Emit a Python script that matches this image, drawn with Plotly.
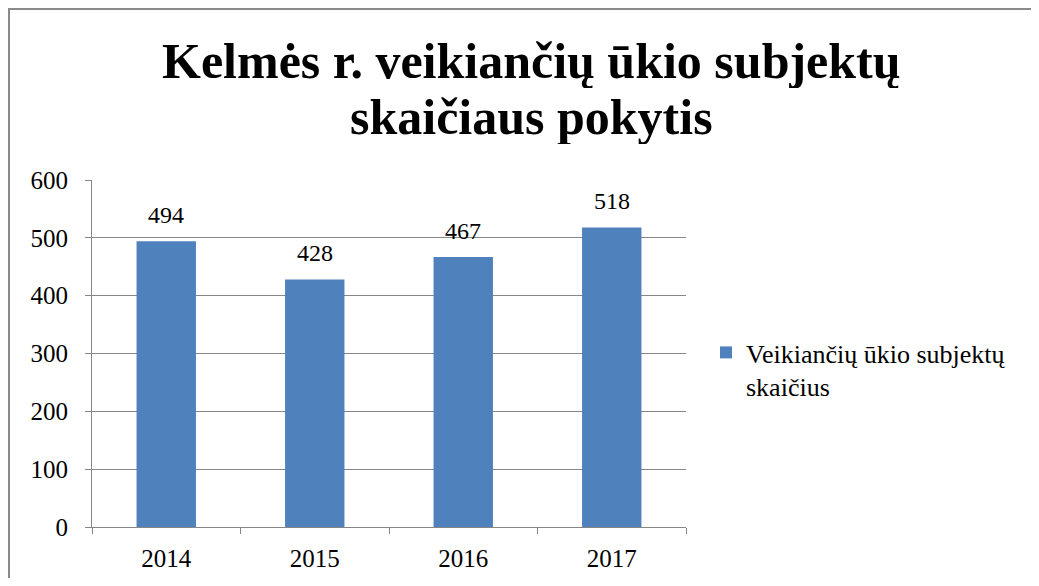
import plotly.graph_objects as go

years = ["2014", "2015", "2016", "2017"]
values = [494, 428, 467, 518]
series_name = "Veikiančių ūkio subjektų<br>skaičius"
title_lines = ["Kelmės r. veikiančių ūkio subjektų", "skaičiaus pokytis"]

FONT = "Liberation Serif, Times New Roman, serif"
OFF = 8  # page body margin
W, H = 1039 - 2 * OFF, 586 - 2 * OFF
# plot area in screen pixels
SX0, SX1, SY0, SY1 = 92, 686, 180, 527
L, R = SX0 - OFF, W - (SX1 - OFF)
T, B = SY0 - OFF, H - (SY1 - OFF)
pw, ph = W - L - R, H - T - B


def fx(s):
    return (s - SX0) / pw


def fy(s):
    return (SY1 - s) / ph


fig = go.Figure()
fig.add_trace(go.Bar(
    x=years, y=values, name=series_name,
    marker=dict(color="#4F81BD", line=dict(width=0)),
    showlegend=True,
))

for i, v in enumerate(values):
    fig.add_annotation(x=i, y=v, xref="x", yref="y", text=str(v), showarrow=False,
                       yanchor="bottom", yshift=11,
                       font=dict(family=FONT, size=24, color="#000"))

for line, sy in zip(title_lines, [61, 117]):
    fig.add_annotation(x=fx(531), y=fy(sy), xref="paper", yref="paper",
                       text="<b>" + line + "</b>", showarrow=False,
                       xanchor="center", yanchor="middle", height=54,
                       valign="middle",
                       font=dict(family=FONT, size=50, color="#000"))

fig.add_shape(type="rect", xref="paper", yref="paper",
              x0=fx(9), x1=fx(1060), y0=fy(620), y1=fy(9),
              line=dict(color="#8a8a8a", width=2), fillcolor="rgba(0,0,0,0)")

fig.update_layout(
    width=W, height=H,
    margin=dict(l=L, r=R, t=T, b=B, autoexpand=False),
    paper_bgcolor="white", plot_bgcolor="white",
    bargap=0.6,
    font=dict(family=FONT, size=24, color="#000"),
    legend=dict(x=fx(706), y=fy(329), xanchor="left", yanchor="top",
                valign="top", tracegroupgap=0,
                font=dict(family=FONT, size=26, color="#000"),
                itemwidth=30, bgcolor="rgba(0,0,0,0)"),
    xaxis=dict(type="category", categoryorder="array", categoryarray=years,
               range=[-0.5, len(years) - 0.5],
               tickson="boundaries", ticks="outside",
               ticklen=6, tickcolor="#868686", showline=True,
               linecolor="#868686", linewidth=1, showgrid=False,
               ticklabelstandoff=9, tickangle=0,
               tickfont=dict(family=FONT, size=25, color="#000")),
    yaxis=dict(range=[0, 600], dtick=100, ticks="outside", ticklen=6,
               tickcolor="#868686", showline=True, linecolor="#868686",
               linewidth=1, showgrid=True, gridcolor="#868686", gridwidth=1,
               zeroline=False, ticklabelstandoff=12,
               tickfont=dict(family=FONT, size=25, color="#000")),
)

fig.write_html("out.html")
